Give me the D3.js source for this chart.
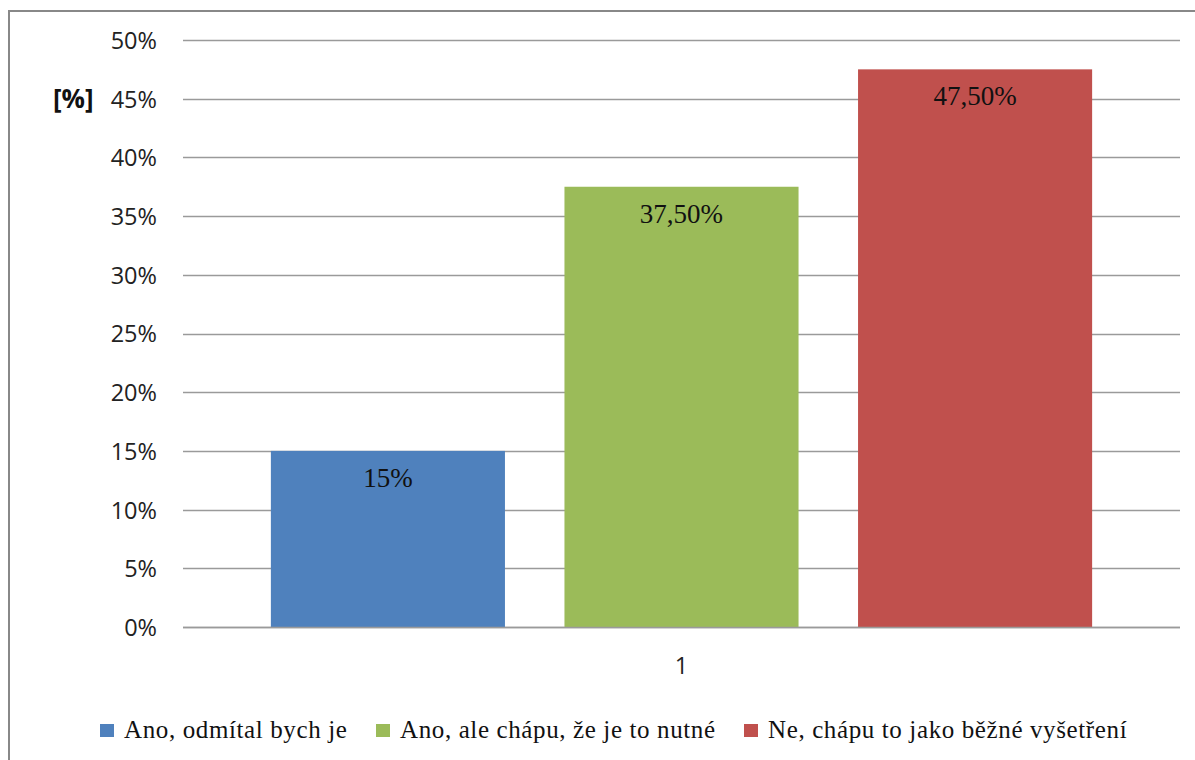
<!DOCTYPE html>
<html>
<head>
<meta charset="utf-8">
<script src="https://cdn.jsdelivr.net/npm/d3@7"></script>
<style>
  html, body { margin: 0; padding: 0; background: #fff; }
  svg { display: block; }
  .serif { font-family: "Liberation Serif", "Times New Roman", serif; }
  .sans { font-family: "Open Sans", sans-serif; }
</style>
</head>
<body>
<svg id="chart" width="1195" height="760"></svg>
<script>
// Survey answers (share of respondents)
const categories = ["1"];
const seriesNames = [
  "Ano, odmítal bych je",
  "Ano, ale chápu, že je to nutné",
  "Ne, chápu to jako běžné vyšetření"
];
const seriesValues = [0.15, 0.375, 0.475];
const valueLabels = ["15%", "37,50%", "47,50%"];
const seriesColors = ["#4f81bd", "#9bbb59", "#c0504d"];
const yTicks = [0, 0.05, 0.10, 0.15, 0.20, 0.25, 0.30, 0.35, 0.40, 0.45, 0.50];

const svg = d3.select("#chart");
const W = 1195, H = 760;
const plot = { left: 183, right: 1180, top: 40, bottom: 627 };

// Outer chart frame
svg.append("rect")
  .attr("x", 9).attr("y", 11)
  .attr("width", W + 20).attr("height", H + 20)
  .attr("fill", "none")
  .attr("stroke", "#888").attr("stroke-width", 2);

const y = d3.scaleLinear().domain([0, 0.5]).range([plot.bottom, plot.top]);

const x0 = d3.scaleBand()
  .domain(categories)
  .range([plot.left, plot.right])
  .paddingInner(0)
  .paddingOuter(0.107);

const x1 = d3.scaleBand()
  .domain(seriesNames)
  .range([0, x0.bandwidth()])
  .paddingInner(0.2027)
  .paddingOuter(0);

// Horizontal gridlines
svg.append("g")
  .selectAll("line")
  .data(yTicks)
  .join("line")
  .attr("x1", plot.left).attr("x2", plot.right)
  .attr("y1", d => Math.round(y(d)) + 0.5)
  .attr("y2", d => Math.round(y(d)) + 0.5)
  .attr("stroke", "#9a9a9a").attr("stroke-width", 1.3);

// Y axis labels
const yAxis = d3.axisLeft(y)
  .tickValues(yTicks)
  .tickSize(0)
  .tickPadding(0)
  .tickFormat(d => Math.round(d * 100) + "%");

const yg = svg.append("g")
  .attr("transform", `translate(157,0)`)
  .call(yAxis)
  .attr("font-family", null)
  .attr("font-size", null);
yg.select(".domain").remove();
yg.selectAll("text")
  .attr("class", "sans")
  .attr("font-size", 23.5)
  .attr("fill", "#222")
  .attr("dy", "0.36em");

// Unit label
svg.append("text")
  .attr("class", "sans")
  .attr("x", 53).attr("y", y(0.45))
  .attr("dy", "0.36em")
  .attr("font-weight", "bold")
  .attr("font-size", 26)
  .attr("fill", "#111")
  .text("[%]");

// Bars
const group = svg.append("g")
  .selectAll("g")
  .data(categories)
  .join("g")
  .attr("transform", d => `translate(${x0(d)},0)`);

const bars = seriesNames.map((name, i) => ({ name, value: seriesValues[i], label: valueLabels[i], color: seriesColors[i] }));

group.selectAll("rect")
  .data(bars)
  .join("rect")
  .attr("x", d => x1(d.name))
  .attr("y", d => y(d.value))
  .attr("width", x1.bandwidth())
  .attr("height", d => y(0) - y(d.value))
  .attr("fill", d => d.color);

group.selectAll("text.val")
  .data(bars)
  .join("text")
  .attr("class", "val serif")
  .attr("x", d => x1(d.name) + x1.bandwidth() / 2)
  .attr("y", d => y(d.value) + 36)
  .attr("text-anchor", "middle")
  .attr("font-size", 27)
  .attr("fill", "#111")
  .text(d => d.label);

// Baseline over the bars
svg.append("line")
  .attr("x1", plot.left).attr("x2", plot.right)
  .attr("y1", Math.round(y(0)) + 0.5).attr("y2", Math.round(y(0)) + 0.5)
  .attr("stroke", "#9a9a9a").attr("stroke-width", 1.3);

// Category axis label
const xAxis = d3.axisBottom(x0).tickSize(0).tickPadding(0);
const xg = svg.append("g")
  .attr("transform", `translate(0,674)`)
  .call(xAxis)
  .attr("font-family", null)
  .attr("font-size", null);
xg.select(".domain").remove();
xg.selectAll("text")
  .attr("class", "sans")
  .attr("font-size", 23.5)
  .attr("fill", "#222")
  .attr("dy", 0);

// Legend
const legendX = [100, 376, 744];
const legend = svg.append("g")
  .selectAll("g")
  .data(bars)
  .join("g")
  .attr("transform", (d, i) => `translate(${legendX[i]},724)`);

legend.append("rect")
  .attr("width", 14).attr("height", 13)
  .attr("fill", d => d.color);

legend.append("text")
  .attr("class", "serif")
  .attr("x", 24).attr("y", 14)
  .attr("font-size", 25)
  .attr("letter-spacing", 0.62)
  .attr("fill", "#111")
  .text(d => d.name);
</script>
</body>
</html>
